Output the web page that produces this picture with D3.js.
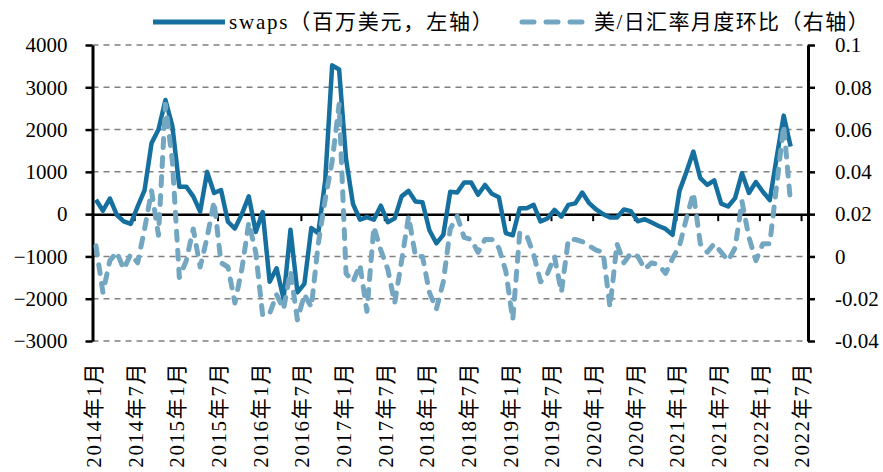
<!DOCTYPE html>
<html>
<head>
<meta charset="utf-8">
<script src="https://cdn.jsdelivr.net/npm/d3@7"></script>
<style>
body{margin:0;background:#fff}
svg text{font-family:"Liberation Serif","Noto Sans CJK SC",serif;fill:#000}
</style>
</head>
<body>
<div id="chart"></div>
<script>
const width = 883
const height = 472

const margin = {
    top: 45,
    bottom: 131,
    left: 92.5,
    right: 75
}

// monthly swaps, 2014-01 .. 2022-05 (left axis)
const swaps = [
    340, 80, 370, -20, -170, -230, 180, 570, 1680, 2000, 2700, 2080,
    650, 650, 420, 60, 1000, 500, 570, -180, -340, 0, 420, -420,
    50, -1600, -1280, -2000, -370, -1850, -1650, -330, -450, 800, 3520, 3420,
    1300, 240, -130, -70, -130, 200, -190, -100, 420, 550, 300, 280,
    -380, -690, -490, 530, 510, 750, 750, 460, 690, 480, 400, -450,
    -500, 140, 140, 220, -175, -100, 100, -60, 220, 255, 510, 260,
    110, 0, -80, -80, 110, 70, -170, -120, -200, -280, -350, -490,
    550, 1000, 1480, 850, 690, 800, 250, 180, 380, 970, 500, 760,
    530, 330, 1350, 2330, 1600
]

// USD/JPY month-on-month change (right axis)
const usdjpy = [
    0.005, -0.017, -0.002, 0.002, -0.006, 0.001, -0.003, 0.013, 0.031, 0.010, 0.072, 0.045,
    -0.010, -0.002, 0.013, -0.005, 0.009, 0.026, -0.003, -0.005, -0.022, -0.006, 0.016, 0.002,
    -0.028, -0.027, -0.018, -0.025, -0.007, -0.030, -0.018, -0.024, 0.006, 0.027, 0.045, 0.072,
    -0.008, -0.012, -0.004, -0.026, 0.014, 0.003, -0.006, -0.022, -0.002, 0.019, 0.000, 0.000,
    -0.017, -0.025, -0.012, 0.013, 0.019, 0.009, 0.008, 0.002, 0.008, 0.008, 0.004, -0.007,
    -0.030, 0.011, 0.010, 0.001, -0.012, -0.008, 0.000, -0.017, 0.008, 0.008, 0.007, 0.005,
    0.003, 0.002, -0.024, 0.006, -0.003, 0.0015, 0.000, -0.006, -0.003, -0.004, -0.008, -0.001,
    0.005, 0.018, 0.030, 0.006, 0.002, 0.006, 0.002, -0.002, 0.004, 0.026, 0.009, -0.002,
    0.006, 0.006, 0.034, 0.062, 0.025
]

const tickLabels = ["2014年1月","2014年7月","2015年1月","2015年7月","2016年1月","2016年7月",
    "2017年1月","2017年7月","2018年1月","2018年7月","2019年1月","2019年7月","2020年1月",
    "2020年7月","2021年1月","2021年7月","2022年1月","2022年7月"]
const leftTicks = [-3000, -2000, -1000, 0, 1000, 2000, 3000, 4000]
const rightTicks = [-0.04, -0.02, 0, 0.02, 0.04, 0.06, 0.08, 0.1]
const rightTickLabels = ["-0.04", "-0.02", "0", "0.02", "0.04", "0.06", "0.08", "0.1"]
const legendNames = ["swaps（百万美元，左轴）", "美/日汇率月度环比（右轴）"]

// 2014-01 .. 2022-07
const months = d3.range(103).map(i => `${2014 + Math.floor(i / 12)}-${i % 12 + 1}`)

const solidColor = "#15709f"
const dashColor = "#73a6c1"

const svg = d3.select("div#chart").append("svg").attr("width", width).attr("height", height)

const x = d3.scaleBand().domain(months).range([margin.left, width - margin.right])
const xEdge = d3.scaleLinear().domain([0, months.length]).range([margin.left, width - margin.right])
const yLeft = d3.scaleLinear().domain([-3000, 4000]).range([height - margin.bottom, margin.top])
const yRight = d3.scaleLinear().domain([-0.04, 0.1]).range([height - margin.bottom, margin.top])
const cx = (d, i) => x(months[i]) + x.bandwidth() / 2

// grid
svg.append("g").attr("class", "grid")
    .selectAll("line").data(leftTicks.filter(d => d !== 0)).enter()
    .append("line")
    .attr("x1", margin.left).attr("x2", width - margin.right)
    .attr("y1", d => yLeft(d)).attr("y2", d => yLeft(d))
    .attr("stroke", "#808080").attr("stroke-width", 1.5).attr("stroke-dasharray", "6,5")

// category axis on zero line
const zeroAxis = svg.append("g").attr("transform", `translate(0,${yLeft(0)})`)
    .call(d3.axisBottom(xEdge).tickValues(d3.range(0, 103, 6)).tickFormat("").tickSize(7).tickSizeOuter(0))
zeroAxis.select(".domain").attr("stroke", "#000").attr("stroke-width", 2.5)
zeroAxis.selectAll(".tick line").attr("stroke", "#000").attr("stroke-width", 2)

// x labels
svg.append("g").attr("class", "xLabels")
    .selectAll("text").data(tickLabels).enter()
    .append("text")
    .attr("transform", d => {
        const m = d.replace("年", "-").replace("月", "")
        return `translate(${x(m) + x.bandwidth() / 2 - 2.5},${height - margin.bottom + 21}) rotate(-90)`
    })
    .attr("dy", "0.35em")
    .attr("text-anchor", "end")
    .attr("font-size", 21)
    .attr("letter-spacing", 1.6)
    .text(d => d)

// left axis
const leftAxis = svg.append("g").attr("transform", `translate(${margin.left},0)`)
    .call(d3.axisLeft(yLeft).tickValues(leftTicks).tickFormat(d3.format("d")).tickSize(7).tickSizeOuter(0).tickPadding(18))
leftAxis.select(".domain").attr("stroke", "#000").attr("stroke-width", 3)
leftAxis.selectAll(".tick line").attr("stroke", "#000").attr("stroke-width", 2.5)
leftAxis.selectAll("text").attr("font-size", 21).attr("font-family", "Liberation Serif")

// right axis
const rightAxis = svg.append("g").attr("transform", `translate(${width - margin.right},0)`)
    .call(d3.axisRight(yRight).tickValues(rightTicks).tickFormat((d, i) => rightTickLabels[i]).tickSize(7).tickSizeOuter(0).tickPadding(20))
rightAxis.select(".domain").attr("stroke", "#000").attr("stroke-width", 3)
rightAxis.selectAll(".tick line").attr("stroke", "#000").attr("stroke-width", 2.5)
rightAxis.selectAll("text").attr("font-size", 21).attr("font-family", "Liberation Serif")

// series
svg.append("path").datum(swaps)
    .attr("fill", "none").attr("stroke", solidColor).attr("stroke-width", 4.5)
    .attr("stroke-linejoin", "round")
    .attr("d", d3.line().x(cx).y(d => yLeft(d)))

svg.append("path").datum(usdjpy)
    .attr("fill", "none").attr("stroke", dashColor).attr("stroke-width", 5)
    .attr("stroke-dasharray", "9,10").attr("stroke-linecap", "round").attr("stroke-linejoin", "round")
    .attr("d", d3.line().x(cx).y(d => yRight(d)))

// legend
const legend = svg.append("g").attr("class", "legend")
legend.append("line").attr("x1", 153).attr("x2", 225).attr("y1", 22).attr("y2", 22)
    .attr("stroke", solidColor).attr("stroke-width", 5)
legend.append("text").attr("x", 229).attr("y", 22).attr("dy", "0.35em")
    .attr("font-size", 21).attr("letter-spacing", 1.8).text(legendNames[0])
legend.append("line").attr("x1", 522).attr("x2", 586).attr("y1", 22).attr("y2", 22)
    .attr("stroke", dashColor).attr("stroke-width", 5)
    .attr("stroke-dasharray", "12,12").attr("stroke-linecap", "round")
legend.append("text").attr("x", 594).attr("y", 22).attr("dy", "0.35em")
    .attr("font-size", 21).attr("letter-spacing", 1.4).text(legendNames[1])
</script>
</body>
</html>
